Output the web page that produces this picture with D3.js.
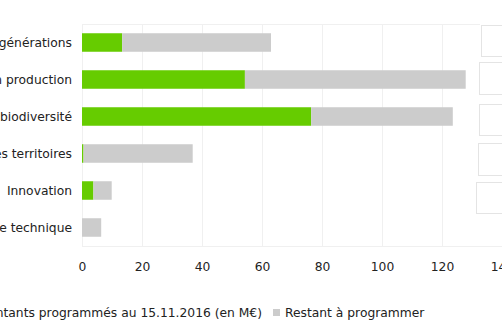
<!DOCTYPE html>
<html>
<head>
<meta charset="utf-8">
<script src="https://cdn.jsdelivr.net/npm/d3@7"></script>
<style>
  html, body { margin: 0; padding: 0; background: #fff; overflow: hidden; }
  svg { display: block; font-family: "DejaVu Sans", sans-serif; }
</style>
</head>
<body>
<svg id="chart" width="502" height="329"></svg>
<script>
// Measures of the programme and their amounts (M€)
const categories = [
  "Renouvellement des générations",
  "Compétitivité des exploitations en production",
  "Environnement et biodiversité",
  "Développement des territoires",
  "Innovation",
  "Assistance technique"
];
const programmes = [13.4, 54.3, 76.4, 0.5, 3.8, 0];
const restants = [49.6, 73.6, 47.2, 36.4, 6.1, 6.4];
const xTicks = [0, 20, 40, 60, 80, 100, 120, 140];
const seriesNames = ["Montants programmés au 15.11.2016 (en M€)", "Restant à programmer"];
const seriesColors = ["#66cc00", "#cccccc"];

const svg = d3.select("#chart");
const plotLeft = 82, plotTop = 24, plotBottom = 246;
const fontSize = 12.3;

const x = d3.scaleLinear().domain([0, 140]).range([plotLeft, plotLeft + 420]);
const y = d3.scaleBand().domain(categories).range([plotTop, plotBottom])
  .paddingInner(0.5).paddingOuter(0.25);

// Side panels partially visible on the right
const panels = [[481, 25, 31], [479, 62, 32], [479, 104, 31], [478, 143, 32], [476, 182, 31]];
svg.selectAll("rect.panel").data(panels).join("rect")
  .attr("class", "panel")
  .attr("x", d => d[0] + 0.5).attr("y", d => d[1] + 0.5)
  .attr("width", 40).attr("height", d => d[2])
  .attr("fill", "#fff").attr("stroke", "#e4e4e4");

// Grid
svg.append("line")
  .attr("x1", plotLeft).attr("x2", 480).attr("y1", plotTop + 0.5).attr("y2", plotTop + 0.5)
  .attr("stroke", "#f0f0f0");
svg.append("line")
  .attr("x1", plotLeft).attr("x2", 502).attr("y1", plotBottom + 0.5).attr("y2", plotBottom + 0.5)
  .attr("stroke", "#f0f0f0");
svg.selectAll("line.grid").data(xTicks).join("line")
  .attr("class", "grid")
  .attr("x1", d => Math.round(x(d)) + 0.5).attr("x2", d => Math.round(x(d)) + 0.5)
  .attr("y1", plotTop).attr("y2", plotBottom)
  .attr("stroke", "#f0f0f0");

// Stacked bars
const rows = categories.map((c, i) => ({ c, a: programmes[i], b: restants[i] }));
const stack = d3.stack().keys(["a", "b"])(rows);
svg.selectAll("g.series").data(stack).join("g")
  .attr("class", "series")
  .attr("fill", (d, i) => seriesColors[i])
  .selectAll("rect").data(d => d).join("rect")
  .attr("x", d => x(d[0]))
  .attr("width", d => Math.max(0, x(d[1]) - x(d[0])))
  .attr("y", d => y(d.data.c))
  .attr("height", y.bandwidth());

// Category labels
svg.selectAll("text.cat").data(categories).join("text")
  .attr("class", "cat")
  .attr("x", plotLeft - 10)
  .attr("y", d => y(d) + y.bandwidth() / 2)
  .attr("dy", "0.35em")
  .attr("text-anchor", "end")
  .attr("font-size", fontSize)
  .attr("fill", "#222")
  .text(d => d);

// X axis labels
const xAxis = svg.append("g").attr("transform", `translate(0,${plotBottom + 10})`)
  .call(d3.axisBottom(x).tickValues(xTicks).tickSize(0).tickPadding(6));
xAxis.select(".domain").remove();
xAxis.selectAll("text").attr("font-size", fontSize).attr("fill", "#222")
  .attr("font-family", "DejaVu Sans, sans-serif");

// Legend
const legY = 313;
const t1 = svg.append("text")
  .attr("x", 262).attr("y", legY).attr("dy", "0.35em")
  .attr("text-anchor", "end").attr("font-size", fontSize).attr("fill", "#222")
  .text(seriesNames[0]);
const w1 = t1.node().getComputedTextLength();
svg.append("rect").attr("x", 262 - w1 - 12).attr("y", legY - 4)
  .attr("width", 7).attr("height", 7).attr("fill", seriesColors[0]);
svg.append("rect").attr("x", 273).attr("y", legY - 4)
  .attr("width", 7).attr("height", 7).attr("fill", seriesColors[1]);
svg.append("text")
  .attr("x", 285).attr("y", legY).attr("dy", "0.35em")
  .attr("font-size", fontSize).attr("fill", "#222")
  .text(seriesNames[1]);
</script>
</body>
</html>
